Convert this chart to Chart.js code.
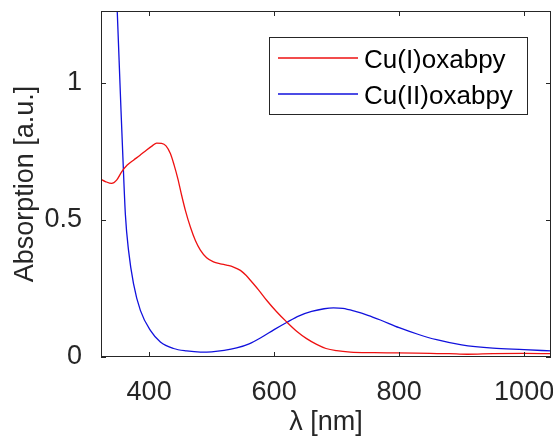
<!DOCTYPE html>
<html>
<head>
<meta charset="utf-8">
<script src="https://cdn.jsdelivr.net/npm/chart.js@4.4.0/dist/chart.umd.min.js"></script>
<style>
    body { margin: 0; background: #fff; }
    #wrap { width: 553px; height: 436px; }
</style>
</head>
<body>
<div id="wrap"><canvas id="myChart"></canvas></div>
<script>
// spectra (nm, a.u.)
let seriesLabels = ['Cu(I)oxabpy', 'Cu(II)oxabpy'];

let cu1Wavelength = [323, 330, 340, 348, 356, 365, 375, 385, 396, 405, 412, 420, 427, 434, 440, 446, 452, 458, 466, 474,
    482, 492, 503, 514, 524, 535, 546, 555, 562, 575, 588, 604, 620, 636, 652, 668, 683, 700, 722, 760,
    796, 850, 880, 909, 950, 1000, 1043];
let cu1Absorption = [0.648, 0.640, 0.633, 0.645, 0.675, 0.700, 0.718, 0.735, 0.755, 0.770, 0.780, 0.779, 0.770, 0.742, 0.700, 0.650, 0.590, 0.535, 0.474, 0.425,
    0.390, 0.362, 0.347, 0.340, 0.335, 0.328, 0.316, 0.298, 0.280, 0.245, 0.207, 0.165, 0.128, 0.094, 0.067, 0.046, 0.031, 0.023, 0.018, 0.016,
    0.015, 0.013, 0.012, 0.010, 0.012, 0.013, 0.012];

let cu2Wavelength = [345, 349, 352, 355, 358, 362, 367, 375, 386, 402, 418, 439, 460, 482, 500, 520, 540, 560, 580, 600,
    620, 640, 660, 680, 695, 710, 730, 750, 770, 800, 830, 860, 900, 950, 1000, 1043];
let cu2Absorption = [1.49, 1.26, 1.08, 0.90, 0.73, 0.52, 0.39, 0.268, 0.170, 0.097, 0.055, 0.031, 0.022, 0.018, 0.019, 0.024, 0.033, 0.048, 0.072, 0.100,
    0.126, 0.150, 0.166, 0.176, 0.179, 0.177, 0.166, 0.152, 0.135, 0.107, 0.083, 0.063, 0.044, 0.032, 0.027, 0.022];

let xTicks = [400, 600, 800, 1000];
let yTicks = [0, 0.5, 1];
let xRange = [323, 1043];
let yRange = [0, 1.262];

let ink = '#262626';
let fontFamily = '"Liberation Sans", Arial, sans-serif';

function toPoints(xs, ys) {
    return xs.map((x, i) => ({x: x, y: ys[i]}));
}

// matlab style box with inward ticks on all four sides
let axesBox = {
    id: 'axesBox',
    afterDatasetsDraw(chart) {
        let {ctx, chartArea: a, scales} = chart;
        ctx.save();
        ctx.strokeStyle = ink;
        ctx.lineWidth = 1;
        ctx.beginPath();
        xTicks.forEach(v => {
            let x = Math.round(scales.x.getPixelForValue(v)) + 0.5;
            ctx.moveTo(x, a.bottom); ctx.lineTo(x, a.bottom - 5);
            ctx.moveTo(x, a.top); ctx.lineTo(x, a.top + 5);
        });
        yTicks.forEach(v => {
            let y = Math.round(scales.y.getPixelForValue(v)) + 0.5;
            ctx.moveTo(a.left, y); ctx.lineTo(a.left + 5, y);
            ctx.moveTo(a.right, y); ctx.lineTo(a.right - 5, y);
        });
        ctx.stroke();
        ctx.strokeRect(a.left + 0.5, a.top + 0.5, a.right - a.left - 1, a.bottom - a.top - 1);
        ctx.restore();
    }
};

// boxed legend in the upper right corner
let boxLegend = {
    id: 'boxLegend',
    afterDraw(chart) {
        let ctx = chart.ctx;
        ctx.save();
        ctx.fillStyle = '#fff';
        ctx.fillRect(269.5, 37.5, 258, 77);
        ctx.strokeStyle = ink;
        ctx.lineWidth = 1;
        ctx.strokeRect(269.5, 37.5, 258, 77);
        ctx.font = '26px ' + fontFamily;
        ctx.textBaseline = 'alphabetic';
        chart.data.datasets.forEach((ds, i) => {
            let y = 58 + i * 36;
            ctx.strokeStyle = ds.borderColor;
            ctx.lineWidth = 1.3;
            ctx.beginPath();
            ctx.moveTo(278, y); ctx.lineTo(358, y);
            ctx.stroke();
            ctx.fillStyle = '#000';
            ctx.fillText(ds.label, 364, y + 10);
        });
        ctx.restore();
    }
};

let ctx = document.getElementById('myChart').getContext('2d');
let chart = new Chart(ctx, {
    type: 'line',
    data: {
        datasets: [{
            label: seriesLabels[0],
            data: toPoints(cu1Wavelength, cu1Absorption),
            borderColor: '#ee1111',
            borderWidth: 1.3,
            pointRadius: 0,
            cubicInterpolationMode: 'monotone',
            clip: 0
        }, {
            label: seriesLabels[1],
            data: toPoints(cu2Wavelength, cu2Absorption),
            borderColor: '#1111dd',
            borderWidth: 1.3,
            pointRadius: 0,
            cubicInterpolationMode: 'monotone',
            clip: 0
        }]
    },
    options: {
        responsive: true,
        maintainAspectRatio: false,
        animation: false,
        layout: {autoPadding: false, padding: {top: 11, right: 2, left: 0, bottom: 0}},
        plugins: {legend: {display: false}, tooltip: {enabled: false}},
        scales: {
            x: {
                type: 'linear',
                min: xRange[0],
                max: xRange[1],
                grid: {display: false},
                border: {display: false},
                afterBuildTicks: s => { s.ticks = xTicks.map(v => ({value: v})); },
                afterFit: s => { s.height = 79; s.paddingLeft = 0; s.paddingRight = 0; },
                ticks: {color: ink, font: {family: fontFamily, size: 27}, padding: 11, maxRotation: 0, autoSkip: false, callback: v => String(v)},
                title: {display: true, text: 'λ [nm]', color: ink, font: {family: fontFamily, size: 27, lineHeight: 1}, padding: {top: 0, bottom: 0}}
            },
            y: {
                min: yRange[0],
                max: yRange[1],
                grid: {display: false},
                border: {display: false},
                afterBuildTicks: s => { s.ticks = yTicks.map(v => ({value: v})); },
                afterFit: s => { s.width = 101; s.paddingTop = 0; s.paddingBottom = 0; },
                ticks: {color: ink, font: {family: fontFamily, size: 27}, padding: 11, callback: v => String(v)},
                title: {display: true, text: 'Absorption [a.u.]', color: ink, font: {family: fontFamily, size: 27, lineHeight: 1}, padding: {top: 12, bottom: 0}}
            }
        }
    },
    plugins: [axesBox, boxLegend]
});
</script>
</body>
</html>
